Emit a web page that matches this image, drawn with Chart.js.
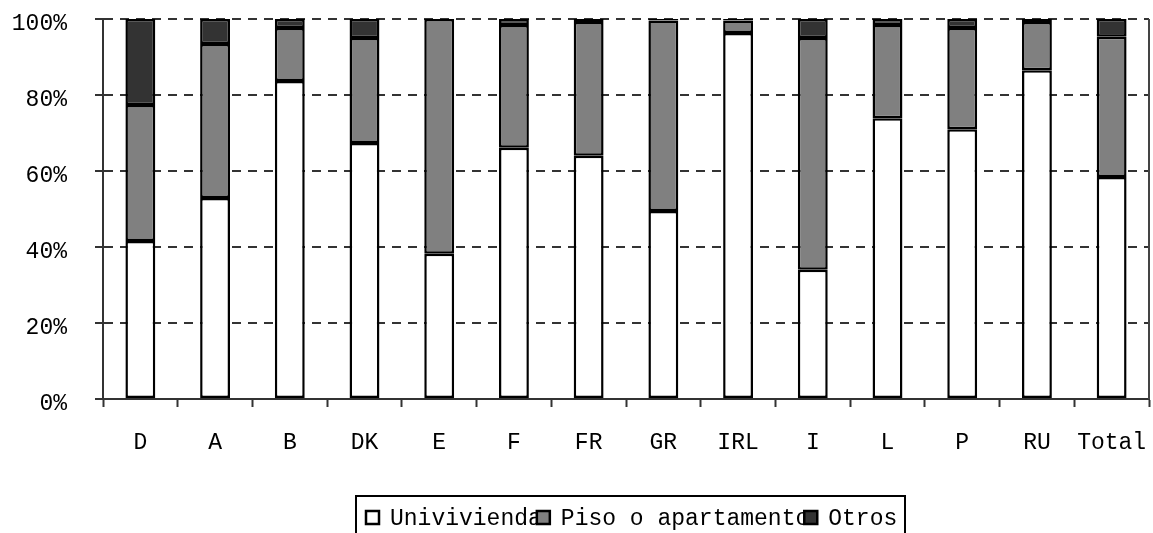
<!DOCTYPE html>
<html>
<head>
<meta charset="utf-8">
<script src="https://cdn.jsdelivr.net/npm/chart.js@4"></script>
<style>
  html, body { margin: 0; padding: 0; background: #fff; }
  #wrap { width: 1153px; height: 533px; }
</style>
</head>
<body>
<div id="wrap"><canvas id="myChart" width="1153" height="533"></canvas></div>
<script>
// data
const categories = ["D", "A", "B", "DK", "E", "F", "FR", "GR", "IRL", "I", "L", "P", "RU", "Total"];
const univivienda = [41.6, 52.9, 83.7, 67.4, 38.2, 66.1, 64.0, 49.5, 96.3, 34.0, 73.9, 71.0, 86.5, 58.4];
const pisoApartamento = [35.8, 40.5, 13.9, 27.6, 61.8, 32.3, 35.2, 50.1, 3.3, 61.0, 24.5, 26.6, 12.7, 36.9];
const otros = [22.6, 6.6, 2.4, 5.0, 0.0, 1.6, 0.8, 0.4, 0.4, 5.0, 1.6, 2.4, 0.8, 4.7];
const yTicks = [0, 20, 40, 60, 80, 100];

const seriesNames = ["Univivienda", "Piso o apartamento", "Otros"];
const seriesColors = ["#ffffff", "#808080", "#333333"];

const FONT = "'Liberation Mono', 'Courier New', monospace";

// right border of plot + boxed legend underneath
const framePlugin = {
  id: "frame",
  afterDraw(chart) {
    const ctx = chart.ctx;
    const a = chart.chartArea;
    ctx.save();
    ctx.strokeStyle = "#444";
    ctx.lineWidth = 2;
    ctx.beginPath();
    ctx.moveTo(a.right, a.top);
    ctx.lineTo(a.right, a.bottom);
    ctx.stroke();

    // legend (text runs into the next swatch, like the original)
    ctx.font = "23px " + FONT;
    ctx.textBaseline = "middle";
    const boxW = 549;
    const boxLeft = Math.round((a.left + a.right) / 2 + 4 - boxW / 2);
    const boxTop = 496;
    ctx.lineWidth = 2;
    ctx.strokeStyle = "#000";
    ctx.strokeRect(boxLeft, boxTop, boxW, 60);
    let x = boxLeft + 10;
    const cy = boxTop + 22;
    seriesNames.forEach((name, i) => {
      ctx.fillStyle = seriesColors[i];
      ctx.fillRect(x, cy - 7, 13, 13);
      ctx.lineWidth = 2.5;
      ctx.strokeRect(x, cy - 7, 13, 13);
      ctx.fillStyle = "#000";
      ctx.fillText(name, x + 24, cy + 1);
      x = x + 24 + ctx.measureText(name).width - 5;
    });
    ctx.restore();
  }
};

const datasets = [univivienda, pisoApartamento, otros].map((vals, i) => ({
  label: seriesNames[i],
  data: vals,
  backgroundColor: seriesColors[i],
  borderColor: "#000",
  borderWidth: 2.5,
  borderSkipped: false,
  barPercentage: 0.4,
  categoryPercentage: 1.0
}));

const ctx = document.getElementById("myChart").getContext("2d");
const dataChart = new Chart(ctx, {
  type: "bar",
  data: { labels: categories, datasets: datasets },
  plugins: [framePlugin],
  options: {
    responsive: false,
    animation: false,
    layout: { padding: { top: 19, right: 4, left: 0, bottom: 0 } },
    plugins: {
      legend: { display: false },
      tooltip: { enabled: false }
    },
    scales: {
      x: {
        stacked: true,
        afterFit: (s) => { s.height = 134; s.paddingLeft = 0; s.paddingRight = 0; },
        grid: {
          offset: true,
          drawOnChartArea: false,
          drawTicks: true,
          tickLength: 8,
          tickWidth: 2,
          tickColor: "#333"
        },
        border: { color: "#333", width: 2 },
        ticks: {
          color: "#000",
          font: { family: FONT, size: 23 },
          padding: 22,
          maxRotation: 0,
          autoSkip: false
        }
      },
      y: {
        stacked: true,
        min: 0,
        max: 100,
        afterFit: (s) => { s.width = 103; s.paddingTop = 0; s.paddingBottom = 0; },
        afterBuildTicks: (s) => { s.ticks = yTicks.map(v => ({ value: v })); },
        grid: {
          color: "#333",
          lineWidth: 2,
          tickLength: 8,
          tickWidth: 2,
          tickColor: "#333"
        },
        border: { color: "#333", width: 2, dash: [9, 7] },
        ticks: {
          color: "#000",
          font: { family: FONT, size: 23 },
          padding: 28,
          labelOffset: 5,
          callback: (v) => v + "%"
        }
      }
    }
  }
});
</script>
</body>
</html>
